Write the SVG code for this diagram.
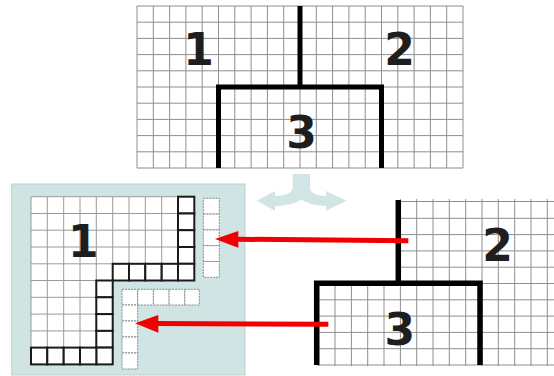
<svg xmlns="http://www.w3.org/2000/svg" width="554" height="376" viewBox="0 0 554 376">
<style>
.grid{fill:none;stroke:#8e8e8e;stroke-width:1}
.pgrid{fill:none;stroke:#9a9a9a;stroke-width:1}
.thick{fill:none;stroke:#000;stroke-width:5;stroke-linejoin:miter}
.num{font-family:"DejaVu Sans",sans-serif;font-weight:bold;font-size:44px;fill:#1e1e1e;text-anchor:middle}
.bold{fill:#fff;stroke:#1a1a1a;stroke-width:2}
.dash{fill:#fff;stroke:#8a8a8a;stroke-width:1;stroke-dasharray:2 1}
.red{stroke:#f00000;stroke-width:5;fill:none}
.head{fill:#f00000}
</style>
<defs>
<clipPath id="clipLR"><path d="M398 199H554V366H316.7V283.3H398Z"/></clipPath>
<clipPath id="clipP"><path d="M31 196.7H194.3V280.5H112.7V364.4H31Z"/></clipPath>
</defs>

<g id="top-grid">
<path class="grid" d="M137 6V168M153.3 6V168M169.6 6V168M185.9 6V168M202.2 6V168M218.5 6V168M234.8 6V168M251.1 6V168M267.4 6V168M283.7 6V168M300 6V168M316.3 6V168M332.6 6V168M348.9 6V168M365.2 6V168M381.5 6V168M397.8 6V168M414.1 6V168M430.4 6V168M446.7 6V168M463 6V168M137 6H463M137 22.2H463M137 38.4H463M137 54.6H463M137 70.8H463M137 87H463M137 103.2H463M137 119.4H463M137 135.6H463M137 151.8H463M137 168H463"/>
<path class="thick" d="M300 6V87M218.5 168V87H381.5V168"/>
<text class="num" x="198.5" y="65">1</text>
<text class="num" x="399.5" y="65">2</text>
<text class="num" x="301.5" y="148.3">3</text>
</g>

<g id="icon">
<path fill="#d0e5e4" d="M292.7 174H310V189Q312 195.5 326 196V191L346.7 200.7L326 210.7V206Q308 205 301.5 199.5Q295 205 275 206V210.7L256.7 200.7L275 191V196Q290 195.5 292.7 189Z"/>
</g>

<g id="panel-region1">
<rect x="11.7" y="184" width="233.3" height="191" fill="#cfe4e3" stroke="#bcd2d1" stroke-width="1"/>
<path d="M31 196.7H194.3V280.5H112.7V364.4H31Z" fill="#fff" stroke="#9a9a9a" stroke-width="1"/>
<g clip-path="url(#clipP)">
<path class="pgrid" d="M47.3 196.7V364.4M63.7 196.7V364.4M80 196.7V364.4M96.3 196.7V364.4M112.7 196.7V364.4M129 196.7V364.4M145.3 196.7V364.4M161.7 196.7V364.4M178 196.7V364.4M31 213.5H194.3M31 230.2H194.3M31 247H194.3M31 263.8H194.3M31 280.5H194.3M31 297.3H194.3M31 314.1H194.3M31 330.9H194.3M31 347.6H194.3"/>
</g>
<rect class="bold" x="178" y="196.7" width="16.3" height="16.8"/>
<rect class="bold" x="178" y="213.5" width="16.3" height="16.7"/>
<rect class="bold" x="178" y="230.2" width="16.3" height="16.8"/>
<rect class="bold" x="178" y="247" width="16.3" height="16.8"/>
<rect class="bold" x="178" y="263.8" width="16.3" height="16.7"/>
<rect class="bold" x="112.7" y="263.8" width="16.3" height="16.7"/>
<rect class="bold" x="129" y="263.8" width="16.3" height="16.7"/>
<rect class="bold" x="145.3" y="263.8" width="16.4" height="16.7"/>
<rect class="bold" x="161.7" y="263.8" width="16.3" height="16.7"/>
<rect class="bold" x="96.3" y="280.5" width="16.4" height="16.8"/>
<rect class="bold" x="96.3" y="297.3" width="16.4" height="16.8"/>
<rect class="bold" x="96.3" y="314.1" width="16.4" height="16.8"/>
<rect class="bold" x="96.3" y="330.9" width="16.4" height="16.7"/>
<rect class="bold" x="96.3" y="347.6" width="16.4" height="16.8"/>
<rect class="bold" x="31" y="347.6" width="16.3" height="16.8"/>
<rect class="bold" x="47.3" y="347.6" width="16.4" height="16.8"/>
<rect class="bold" x="63.7" y="347.6" width="16.3" height="16.8"/>
<rect class="bold" x="80" y="347.6" width="16.3" height="16.8"/>
<rect class="dash" x="203.3" y="198.3" width="16" height="15.8"/>
<rect class="dash" x="203.3" y="214.1" width="16" height="15.8"/>
<rect class="dash" x="203.3" y="229.9" width="16" height="15.8"/>
<rect class="dash" x="203.3" y="245.7" width="16" height="15.8"/>
<rect class="dash" x="203.3" y="261.5" width="16" height="15.8"/>
<rect class="dash" x="122" y="289.3" width="15.7" height="15.7"/>
<rect class="dash" x="137.7" y="289.3" width="15.7" height="15.7"/>
<rect class="dash" x="153.4" y="289.3" width="15.7" height="15.7"/>
<rect class="dash" x="169.1" y="289.3" width="15.7" height="15.7"/>
<rect class="dash" x="184.8" y="289.3" width="14.5" height="15.7"/>
<rect class="dash" x="122" y="305" width="15.7" height="16"/>
<rect class="dash" x="122" y="321" width="15.7" height="16"/>
<rect class="dash" x="122" y="337" width="15.7" height="16"/>
<rect class="dash" x="122" y="353" width="15.7" height="16"/>
<text class="num" x="83.3" y="256.7">1</text>
</g>

<g id="lower-right">
<g clip-path="url(#clipLR)">
<path class="grid" d="M318.7 195V370M335 195V370M351.4 195V370M367.7 195V370M384 195V370M400.4 195V370M416.7 195V370M433 195V370M449.3 195V370M465.7 195V370M482 195V370M498.3 195V370M514.7 195V370M531 195V370M547.3 195V370M300 201.5H560M300 218.3H560M300 234.6H560M300 250.9H560M300 267.2H560M300 283.5H560M300 299.8H560M300 316.1H560M300 332.4H560M300 348.7H560M300 365H560"/>
</g>
<path class="thick" style="stroke-width:5.5" d="M398.3 200V283.3M316.7 365V283.3H480V365"/>
<text class="num" x="497.5" y="261">2</text>
<text class="num" x="399.8" y="345">3</text>
</g>

<g id="connectors">
<path class="red" d="M408.3 240.8L236 239.2"/>
<path class="head" d="M215 239L238.3 231V247.7Z"/>
<path class="red" d="M328.3 324.2L156 323.5"/>
<path class="head" d="M135 323.3L158.3 315V332.7Z"/>
</g>
</svg>
